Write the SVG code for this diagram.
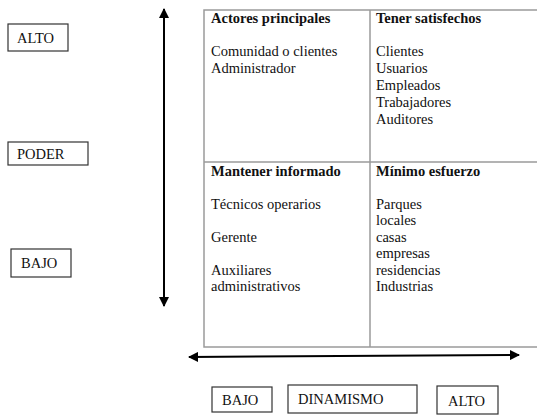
<svg xmlns="http://www.w3.org/2000/svg" width="537" height="415" viewBox="0 0 537 415">
<style>
text{font-family:"Liberation Serif","Times New Roman",serif;font-size:14.5px;fill:#111}
.h{font-weight:bold}
.grid{fill:none;stroke:#9a9a9a;stroke-width:1.5}
.box{fill:#fff;stroke:#333;stroke-width:1.2}
.arr{stroke:#000;stroke-width:2;fill:none}
</style>
<defs>
<marker id="ah" viewBox="0 0 10 10" refX="9" refY="5" markerWidth="5" markerHeight="5" orient="auto-start-reverse" markerUnits="strokeWidth">
<path d="M0,0 L10,5 L0,10 z" fill="#000"/>
</marker>
</defs>
<rect width="537" height="415" fill="#fff"/>
<g id="grid">
<rect class="grid" x="204" y="10" width="340" height="337"/>
<line class="grid" x1="370" y1="10" x2="370" y2="347"/>
<line class="grid" x1="204" y1="162" x2="537" y2="162"/>
</g>
<g id="q-actores">
<text class="h" x="211" y="23">Actores principales</text>
<text x="211" y="56">Comunidad o clientes</text>
<text x="211" y="73">Administrador</text>
</g>
<g id="q-satisfechos">
<text class="h" x="376" y="23">Tener satisfechos</text>
<text x="376" y="56">Clientes</text>
<text x="376" y="73">Usuarios</text>
<text x="376" y="90">Empleados</text>
<text x="376" y="107">Trabajadores</text>
<text x="376" y="124">Auditores</text>
</g>
<g id="q-informado">
<text class="h" x="211" y="176">Mantener informado</text>
<text x="211" y="209">Técnicos operarios</text>
<text x="211" y="242">Gerente</text>
<text x="211" y="275">Auxiliares</text>
<text x="211" y="291">administrativos</text>
</g>
<g id="q-minimo">
<text class="h" x="376" y="176">Mínimo esfuerzo</text>
<text x="376" y="209">Parques</text>
<text x="376" y="225">locales</text>
<text x="376" y="242">casas</text>
<text x="376" y="258">empresas</text>
<text x="376" y="275">residencias</text>
<text x="376" y="291">Industrias</text>
</g>
<g id="connectors">
<line class="arr" x1="164" y1="9" x2="164" y2="306" marker-start="url(#ah)" marker-end="url(#ah)"/>
<line class="arr" x1="189" y1="357" x2="519" y2="355" marker-start="url(#ah)" marker-end="url(#ah)"/>
</g>
<g id="alto-y">
<rect class="box" x="8" y="24" width="60" height="27"/>
<text x="17" y="43">ALTO</text>
</g>
<g id="poder">
<rect class="box" x="8" y="142" width="80" height="23"/>
<text x="17" y="159">PODER</text>
</g>
<g id="bajo-y">
<rect class="box" x="11" y="249" width="60" height="28"/>
<text x="21" y="268">BAJO</text>
</g>
<g id="bajo-x">
<rect class="box" x="212" y="387" width="60" height="25"/>
<text x="222" y="405">BAJO</text>
</g>
<g id="dinamismo">
<rect class="box" x="288" y="385" width="129" height="28"/>
<text x="298" y="404">DINAMISMO</text>
</g>
<g id="alto-x">
<rect class="box" x="437" y="386" width="61" height="28"/>
<text x="448" y="406">ALTO</text>
</g>
</svg>
